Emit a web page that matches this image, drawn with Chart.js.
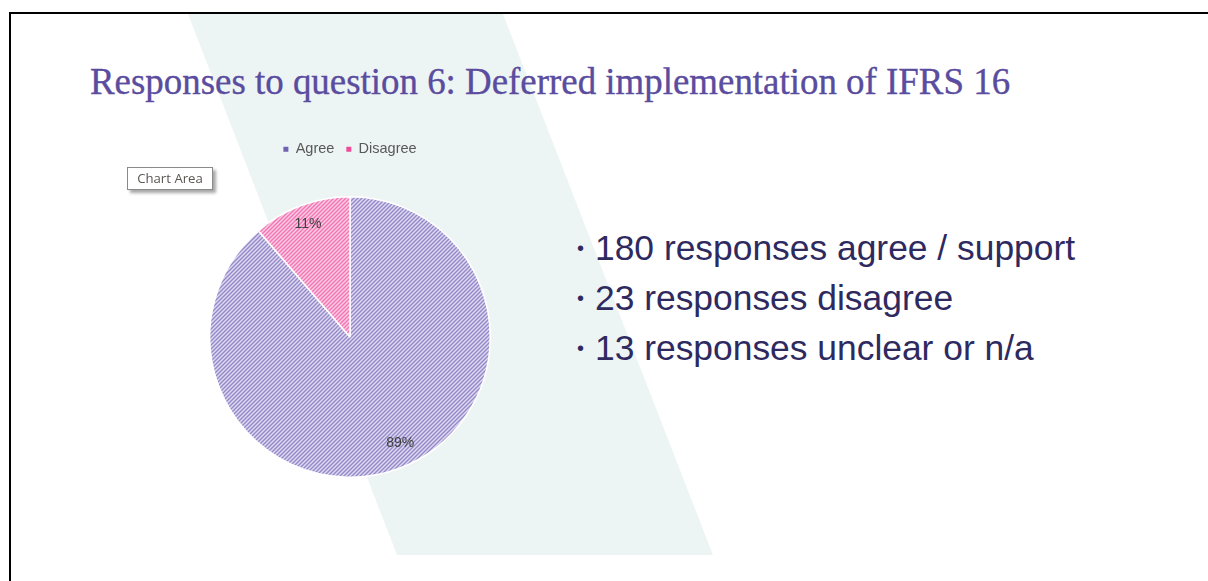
<!DOCTYPE html>
<html>
<head>
<meta charset="utf-8">
<script src="https://cdn.jsdelivr.net/npm/chart.js@4/dist/chart.umd.min.js"></script>
<style>
  html, body { margin: 0; padding: 0; background: #ffffff; }
  body { width: 1208px; height: 581px; position: relative; overflow: hidden; }
  #band { position: absolute; left: 0; top: 0; width: 1208px; height: 581px; background: #EDF5F4;
    clip-path: polygon(188px 14px, 503px 14px, 713px 555px, 397px 555px); }
  #topline { position: absolute; left: 9px; top: 12px; width: 1199px; height: 2px; background: #000; }
  #leftline { position: absolute; left: 9px; top: 12px; width: 2px; height: 569px; background: #000; }
  #title { position: absolute; left: 90px; top: 61px; font-family: "Liberation Serif", "DejaVu Serif", serif;
    font-size: 37px; color: #5A4C9E; white-space: nowrap; line-height: 42px;
    -webkit-text-stroke: 0.35px #5A4C9E; }
  #bullets { position: absolute; left: 577px; top: 223px; font-family: "Liberation Sans", Arial, sans-serif;
    font-size: 35.4px; color: #2E2A60; line-height: 50px; white-space: nowrap; }
  #bullets .b { font-size: 20px; display: inline-block; width: 18px; vertical-align: 5px; }
  #chartbox { position: absolute; left: 150px; top: 130px; width: 400px; height: 348px; }
  #tip { position: absolute; left: 127px; top: 167px; width: 84px; height: 21px; background: #fff;
    border: 1px solid #8a8a8a; box-shadow: 3px 3px 3px rgba(0,0,0,0.35);
    font-family: "Open Sans", "Noto Sans", sans-serif; font-size: 13.2px; color: #5a5650;
    line-height: 21px; text-align: center; }
</style>
</head>
<body>
<div id="band"></div>
<div id="topline"></div>
<div id="leftline"></div>
<div id="title">Responses to question 6: Deferred implementation of IFRS 16</div>
<div id="chartbox"><canvas id="c"></canvas></div>
<div id="tip">Chart Area</div>
<div id="bullets">
  <div><span class="b">•</span>180 responses agree / support</div>
  <div><span class="b">•</span>23 responses disagree</div>
  <div><span class="b">•</span>13 responses unclear or n/a</div>
</div>
<script>
// fit title to reference width
(function () {
  const t = document.getElementById('title');
  const target = 920;
  let fs = 37;
  for (let k = 0; k < 6; k++) {
    const w = t.getBoundingClientRect().width;
    fs = fs * target / w;
    t.style.fontSize = fs.toFixed(2) + 'px';
  }
})();

const categories = ["Agree", "Disagree"];
const responses = [180, 23];
const legendColors = ["#6F62B0", "#EC4C9A"];
const stripeDark = ["#9489C8", "#F274B3"];
const stripeLight = ["#DEDAF1", "#FCCDE5"];

function hatch(light, dark) {
  const c = document.createElement('canvas');
  c.width = 4; c.height = 4;
  const g = c.getContext('2d');
  g.fillStyle = light; g.fillRect(0, 0, 4, 4);
  g.strokeStyle = dark; g.lineWidth = 1.4;
  g.beginPath();
  g.moveTo(-1, 5); g.lineTo(5, -1);
  g.moveTo(-1, 1); g.lineTo(1, -1);
  g.moveTo(3, 5); g.lineTo(5, 3);
  g.stroke();
  return g.createPattern(c, 'repeat');
}
const patterns = categories.map((_, i) => hatch(stripeLight[i], stripeDark[i]));

const labelFrac = [0.835, 0.86];
const labelShift = [-5, 0];

const pctLabels = {
  id: 'pctLabels',
  afterDatasetsDraw(chart) {
    const ctx = chart.ctx;
    const ds = chart.data.datasets[0].data;
    const total = ds.reduce((a, b) => a + b, 0);
    const meta = chart.getDatasetMeta(0);
    ctx.save();
    ctx.font = '14px "Liberation Sans", Arial, sans-serif';
    ctx.fillStyle = '#404040';
    ctx.textAlign = 'center';
    ctx.textBaseline = 'middle';
    meta.data.forEach((arc, i) => {
      const p = arc.getProps(['x', 'y', 'startAngle', 'endAngle', 'outerRadius'], true);
      const mid = (p.startAngle + p.endAngle) / 2 + labelShift[i] * Math.PI / 180;
      const r = p.outerRadius * labelFrac[i];
      ctx.fillText(Math.round(ds[i] / total * 100) + '%', p.x + Math.cos(mid) * r, p.y + Math.sin(mid) * r);
    });
    ctx.restore();
  }
};
const legendHeight = {
  id: 'legendHeight',
  beforeInit(chart) {
    const orig = chart.legend.fit;
    chart.legend.fit = function () { orig.call(this); this.height = 66; };
  }
};

new Chart(document.getElementById('c'), {
  type: 'pie',
  data: {
    labels: categories,
    datasets: [{
      data: responses,
      backgroundColor: patterns,
      borderColor: '#ffffff',
      borderWidth: 1.5
    }]
  },
  options: {
    responsive: true,
    maintainAspectRatio: false,
    animation: false,
    layout: { padding: 0 },
    plugins: {
      tooltip: { enabled: false },
      legend: {
        position: 'top',
        labels: {
          boxWidth: 5, boxHeight: 5, padding: 12,
          color: '#595959',
          font: { family: '"Liberation Sans", Arial, sans-serif', size: 14.5 },
          generateLabels(chart) {
            return chart.data.labels.map((l, i) => ({
              text: l, fillStyle: legendColors[i], strokeStyle: legendColors[i], lineWidth: 0,
              hidden: false, index: i, fontColor: '#595959'
            }));
          }
        }
      }
    }
  },
  plugins: [pctLabels, legendHeight]
});
</script>
</body>
</html>
